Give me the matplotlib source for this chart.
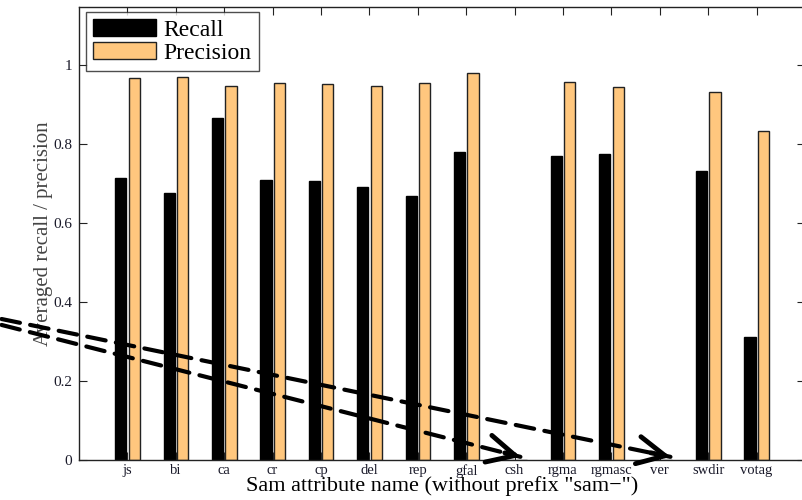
import matplotlib
matplotlib.use("Agg")
import matplotlib.pyplot as plt
import numpy as np

categories = ["js", "bi", "ca", "cr", "cp", "del", "rep", "gfal", "csh",
              "rgma", "rgmasc", "ver", "swdir", "votag"]
recall = [0.714, 0.676, 0.865, 0.709, 0.706, 0.691, 0.668, 0.780, 0.0,
          0.770, 0.775, 0.0, 0.732, 0.311]
precision = [0.967, 0.970, 0.947, 0.954, 0.952, 0.947, 0.954, 0.980, 0.0,
             0.957, 0.945, 0.0, 0.932, 0.834]
yticks = [0, 0.2, 0.4, 0.6, 0.8, 1]
ytick_labels = ["0", "0.2", "0.4", "0.6", "0.8", "1"]

plt.rcParams['font.family'] = ['Liberation Serif', 'DejaVu Serif']

fig = plt.figure(figsize=(8.03, 5.0), dpi=100)
ax = fig.add_axes([79/803, 40/500, (805-79)/803, 453/500])

x = np.arange(1, len(categories) + 1)
w = 0.23
ax.bar(x - 0.135, recall, w, color='black', edgecolor='black', linewidth=1.0, label='Recall')
ax.bar(x + 0.14, precision, w, color='#FFC77E', edgecolor='#222222', linewidth=1.0, label='Precision')

ax.set_xlim(0, 15)
ax.set_ylim(0, 1.147)
ax.set_xticks(x)
ax.set_xticklabels(categories, fontsize=10.5)
ax.set_yticks(yticks)
ax.set_yticklabels(ytick_labels, fontsize=11)
ax.tick_params(direction='in', top=True, right=True, length=6, width=0.8, colors='#222222')
ax.tick_params(axis='x', labelcolor='#1a1a2a', pad=3)
ax.tick_params(axis='y', labelcolor='#1a1a2a', pad=5)
for s in ax.spines.values():
    s.set_linewidth(1.0)
    s.set_color('#222222')

ax.set_xlabel('Sam attribute name (without prefix "sam\u2212")', fontsize=16, labelpad=-1)
ax.set_ylabel('Averaged recall / precision', fontsize=15, color='#444444', labelpad=0)

leg = ax.legend(loc='upper left', bbox_to_anchor=(0.009, 0.989), fontsize=17,
                frameon=True, fancybox=False, edgecolor='#222222',
                handlelength=2.7, handleheight=0.75, borderpad=0.3,
                labelspacing=0.05, handletextpad=0.3, borderaxespad=0.0)
leg.get_frame().set_linewidth(1.0)

# dashed arrows overlay (data coordinates)
arrows = [((-1.6, 0.357), (12.22, 0.008)),
          ((-1.6, 0.342), (9.12, 0.008))]
for (x0, y0), (x1, y1) in arrows:
    ax.annotate('', xy=(x1, y1), xytext=(x0, y0), xycoords='data', textcoords='data',
                annotation_clip=False,
                arrowprops=dict(arrowstyle='-', linestyle=(0, (4.5, 2.5)), linewidth=3,
                                color='black', shrinkA=0, shrinkB=0))
    dx, dy = x1 - x0, y1 - y0
    ax.annotate('', xy=(x1, y1), xytext=(x1 - dx * 0.03, y1 - dy * 0.03), xycoords='data',
                textcoords='data', annotation_clip=False,
                arrowprops=dict(arrowstyle='->, head_length=0.9, head_width=0.45',
                                linewidth=3.5, color='black', mutation_scale=22,
                                shrinkA=0, shrinkB=0))

fig.savefig('out.png', dpi=100)
